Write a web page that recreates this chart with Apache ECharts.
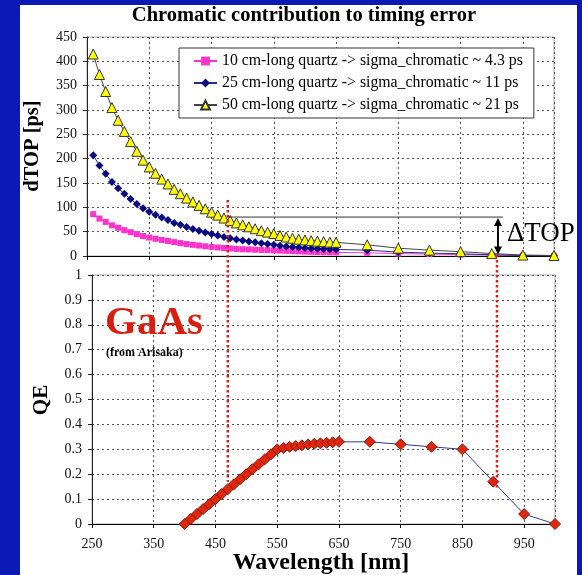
<!DOCTYPE html>
<html>
<head>
<meta charset="utf-8">
<script src="https://cdn.jsdelivr.net/npm/echarts@6/dist/echarts.min.js"></script>
<style>
  html, body { margin: 0; padding: 0; background: #0b1ab5; overflow: hidden; }
  #panel { position: absolute; left: 20px; top: 5px; width: 557px; height: 570px; background: #fff; }
  #chart { position: absolute; left: 0; top: 0; width: 582px; height: 575px; }
</style>
</head>
<body>
<div id="panel"></div>
<div id="chart"></div>
<script>
// Wavelength samples (nm) for the timing-error curves
const dtopWavelengths = [
  260, 270, 280, 290, 300, 310, 320, 330, 340, 350,
  360, 370, 380, 390, 400, 410, 420, 430, 440, 450,
  460, 470, 480, 490, 500, 510, 520, 530, 540, 550,
  560, 570, 580, 590, 600, 610, 620, 630, 640, 650,
  700, 750, 800, 850, 900, 950, 1000
];
// dTOP [ps] for each quartz length
const dtop10cm = [
  86, 77, 70, 63, 58, 53, 49, 45, 41, 38,
  35.5, 33, 31, 28.5, 26.5, 24.5, 23, 21.5, 20, 18.5,
  17.5, 16.5, 15.5, 14.5, 14, 13.5, 13, 12.5, 12, 11.5,
  11, 10.5, 10, 9.5, 9, 8.5, 8.2, 8, 7.7, 7.5,
  6.5, 5, 4, 3, 2, 1, 0.5
];
const dtop25cm = [
  207, 186, 169, 152, 139, 128, 117, 107, 98, 91,
  85, 79, 74, 68, 64, 59.5, 55.5, 52, 48.5, 45,
  42, 39, 36.5, 34, 32, 30, 28, 26, 24.5, 23,
  21, 19.5, 18.5, 17.5, 16.5, 15.5, 15, 14.5, 14, 13.5,
  12, 8, 6, 4.5, 2.5, 1, 0.5
];
const dtop50cm = [
  415, 373, 338, 305, 279, 256, 235, 215, 197, 183,
  170, 158, 148, 137, 128, 119, 111, 104, 97, 90,
  84, 78, 73, 68, 64, 60, 56, 52, 49, 46,
  42, 39, 36.5, 34.5, 33, 31.5, 30.5, 29.5, 28.5, 28,
  23, 16, 12, 9, 5, 2, 1
];
const seriesNames = [
  '10 cm-long quartz -> sigma_chromatic ~ 4.3 ps',
  '25 cm-long quartz -> sigma_chromatic ~ 11 ps',
  '50 cm-long quartz -> sigma_chromatic ~ 21 ps'
];

// GaAs photocathode quantum efficiency
const qeWavelengths = [
  400, 410, 420, 430, 440, 450, 460, 470, 480, 490,
  500, 510, 520, 530, 540, 550, 560, 570, 580, 590,
  600, 610, 620, 630, 640, 650,
  700, 750, 800, 850, 900, 950, 1000
];
const qeValues = [
  0, 0.02, 0.04, 0.06, 0.08, 0.10, 0.12, 0.14, 0.16, 0.18,
  0.20, 0.22, 0.24, 0.26, 0.28, 0.30, 0.305, 0.31, 0.313, 0.316,
  0.319, 0.322, 0.324, 0.326, 0.328, 0.33,
  0.33, 0.32, 0.31, 0.30, 0.17, 0.04, 0
];

// Wavelength window bounds and the dTOP spread between them
const windowLow = 470;
const windowHigh = 906;
const deltaTopLevel = 80;

const FONT = '"Liberation Serif", "Times New Roman", serif';

function pairs(xs, ys) { return xs.map((x, i) => [x, ys[i]]); }

const gridLine = { show: true, lineStyle: { color: '#555', type: [2, 3], width: 1 } };
const labelStyle = { fontFamily: FONT, fontSize: 14, color: '#111' };

const chart = echarts.init(document.getElementById('chart'), null, { renderer: 'canvas' });

const option = {
  backgroundColor: 'transparent',
  animation: false,
  grid: [
    { left: 87, right: 28, top: 37, height: 219, show: true, borderColor: '#aaa', borderWidth: 1, backgroundColor: 'transparent' },
    { left: 92, right: 27, top: 275, height: 249, show: true, borderColor: '#aaa', borderWidth: 1, backgroundColor: 'transparent' }
  ],
  legend: {
    orient: 'vertical',
    left: 179, top: 48,
    padding: [5, 11, 5, 14],
    itemGap: 6, itemWidth: 23, itemHeight: 11,
    borderColor: '#333', borderWidth: 1, backgroundColor: '#fff',
    textStyle: { fontFamily: FONT, fontSize: 15.8, color: '#000' },
    data: seriesNames
  },
  xAxis: [
    {
      gridIndex: 0, type: 'value', min: 250, max: 1000, interval: 100,
      axisLine: { lineStyle: { color: '#000', width: 1 } },
      axisTick: { show: true, length: 4, lineStyle: { color: '#000' } },
      axisLabel: { show: false },
      splitLine: gridLine
    },
    {
      gridIndex: 1, type: 'value', min: 250, max: 1000, interval: 100,
      axisLine: { lineStyle: { color: '#000', width: 1 } },
      axisTick: { show: true, length: 4, lineStyle: { color: '#000' } },
      axisLabel: Object.assign({ margin: 13, showMaxLabel: false }, labelStyle),
      splitLine: gridLine
    }
  ],
  yAxis: [
    {
      gridIndex: 0, type: 'value', min: 0, max: 450, interval: 50,
      axisLine: { show: true, lineStyle: { color: '#222', width: 1 } },
      axisTick: { show: true, length: 4, lineStyle: { color: '#222' } },
      axisLabel: Object.assign({ margin: 10 }, labelStyle),
      splitLine: gridLine
    },
    {
      gridIndex: 1, type: 'value', min: 0, max: 1, interval: 0.1,
      axisLine: { show: true, lineStyle: { color: '#222', width: 1 } },
      axisTick: { show: true, length: 4, lineStyle: { color: '#222' } },
      axisLabel: Object.assign({ margin: 10 }, labelStyle),
      splitLine: gridLine
    }
  ],
  series: [
    {
      name: seriesNames[0], type: 'line', xAxisIndex: 0, yAxisIndex: 0,
      data: pairs(dtopWavelengths, dtop10cm),
      symbol: 'rect', symbolSize: 6,
      itemStyle: { color: '#ff33cc' },
      lineStyle: { color: '#ff33cc', width: 1 },
      z: 3
    },
    {
      name: seriesNames[1], type: 'line', xAxisIndex: 0, yAxisIndex: 0,
      data: pairs(dtopWavelengths, dtop25cm),
      symbol: 'diamond', symbolSize: 8,
      itemStyle: { color: '#0a0a80' },
      lineStyle: { color: '#2a2a90', width: 1 },
      z: 4
    },
    {
      name: seriesNames[2], type: 'line', xAxisIndex: 0, yAxisIndex: 0,
      data: pairs(dtopWavelengths, dtop50cm),
      symbol: 'triangle', symbolSize: 10,
      itemStyle: { color: '#ffff00', borderColor: '#333', borderWidth: 1 },
      lineStyle: { color: '#444', width: 1 },
      z: 5
    },
    {
      name: 'QE', type: 'line', xAxisIndex: 1, yAxisIndex: 1,
      data: pairs(qeWavelengths, qeValues),
      symbol: 'diamond', symbolSize: 11,
      itemStyle: { color: '#e0260c', borderColor: '#8a1608', borderWidth: 1 },
      lineStyle: { color: '#33339a', width: 1 },
      z: 5
    }
  ]
};

chart.setOption(option);

// Annotations placed through the axes' own pixel mapping
const topPt = (x, y) => chart.convertToPixel({ xAxisIndex: 0, yAxisIndex: 0 }, [x, y]);
const botPt = (x, y) => chart.convertToPixel({ xAxisIndex: 1, yAxisIndex: 1 }, [x, y]);

const lowX = botPt(windowLow, 0)[0];
const highX = botPt(windowHigh, 0)[0];
const lowTopY = topPt(windowLow, 115)[1];
const lowBotY = botPt(windowLow, 0.17)[1];
const highTopY = topPt(windowHigh, 2)[1];
const highBotY = botPt(windowHigh, 0.137)[1];
const deltaY = topPt(windowLow, deltaTopLevel)[1];
const zeroY = topPt(windowHigh, 1)[1];
const deltaEndX = topPt(918, 0)[0];

const redDots = { stroke: '#d42222', lineWidth: 2.5, lineDash: [2.5, 2.5] };
const arrowHead = 8;

chart.setOption({
  graphic: [
    { type: 'line', z: 50, shape: { x1: lowX, y1: deltaY, x2: deltaEndX, y2: deltaY }, style: { stroke: '#333', lineWidth: 1 } },
    { type: 'line', z: 60, shape: { x1: lowX, y1: lowTopY, x2: lowX, y2: lowBotY }, style: redDots },
    { type: 'line', z: 60, shape: { x1: highX, y1: highTopY, x2: highX, y2: highBotY }, style: redDots },
    { type: 'line', z: 61, shape: { x1: highX + 1, y1: deltaY + arrowHead, x2: highX + 1, y2: zeroY - arrowHead }, style: { stroke: '#000', lineWidth: 2 } },
    { type: 'polygon', z: 61, shape: { points: [[highX + 1, deltaY + 1], [highX - 3, deltaY + arrowHead + 1], [highX + 5, deltaY + arrowHead + 1]] }, style: { fill: '#000' } },
    { type: 'polygon', z: 61, shape: { points: [[highX + 1, zeroY - 1], [highX - 3, zeroY - arrowHead - 1], [highX + 5, zeroY - arrowHead - 1]] }, style: { fill: '#000' } },
    { type: 'text', z: 70, x: 507, y: 234, style: { text: 'ΔTOP', font: '27px ' + FONT, fill: '#000', textAlign: 'left', textVerticalAlign: 'middle' } },
    { type: 'text', z: 70, x: 304, y: 16, style: { text: 'Chromatic contribution to timing error', font: 'bold 20.5px ' + FONT, fill: '#000', textAlign: 'center', textVerticalAlign: 'middle' } },
    { type: 'text', z: 70, x: 33, y: 146, rotation: Math.PI / 2, style: { text: 'dTOP [ps]', font: 'bold 20.5px ' + FONT, fill: '#000', textAlign: 'center', textVerticalAlign: 'middle' } },
    { type: 'text', z: 70, x: 42, y: 400, rotation: Math.PI / 2, style: { text: 'QE', font: 'bold 21px ' + FONT, fill: '#000', textAlign: 'center', textVerticalAlign: 'middle' } },
    { type: 'text', z: 70, x: 321, y: 563, style: { text: 'Wavelength [nm]', font: 'bold 24px ' + FONT, fill: '#000', textAlign: 'center', textVerticalAlign: 'middle' } },
    { type: 'text', z: 70, x: 105, y: 323, style: { text: 'GaAs', font: 'bold 41px ' + FONT, fill: '#d91e0f', textAlign: 'left', textVerticalAlign: 'middle' } },
    { type: 'text', z: 70, x: 106, y: 353, style: { text: '(from Arisaka)', font: 'bold 12px ' + FONT, fill: '#000', textAlign: 'left', textVerticalAlign: 'middle' } }
  ]
});
</script>
</body>
</html>
